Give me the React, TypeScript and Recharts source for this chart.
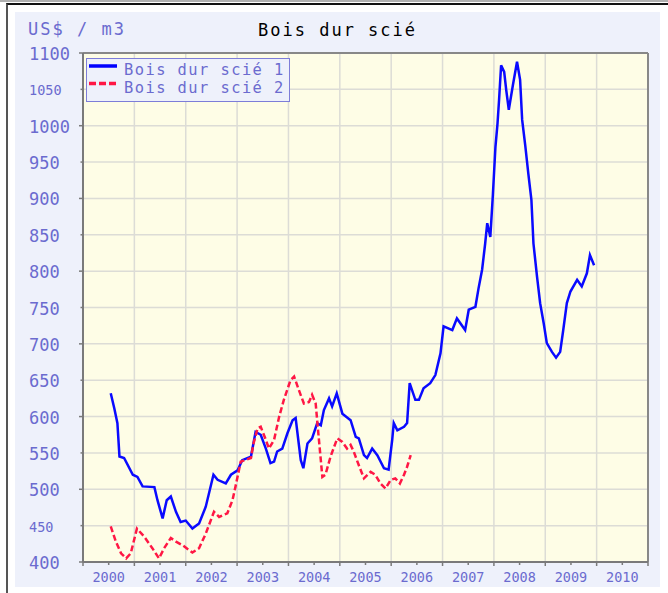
import { LineChart, Line, XAxis, YAxis, CartesianGrid, ReferenceLine, Legend } from 'recharts'

const years1 = [
  2000.54, 2000.61, 2000.67, 2000.71, 2000.8, 2000.97, 2001.06, 2001.16, 2001.39, 2001.45,
  2001.55, 2001.63, 2001.71, 2001.81, 2001.9, 2002.0, 2002.13, 2002.26, 2002.39, 2002.54,
  2002.62, 2002.78, 2002.88, 2003.01, 2003.1, 2003.27, 2003.36, 2003.46, 2003.56, 2003.65,
  2003.72, 2003.78, 2003.88, 2003.98, 2004.08, 2004.14, 2004.2, 2004.24, 2004.29, 2004.37,
  2004.46, 2004.56, 2004.63, 2004.69, 2004.79, 2004.85, 2004.94, 2005.05, 2005.21, 2005.31,
  2005.37, 2005.47, 2005.53, 2005.63, 2005.73, 2005.86, 2005.95, 2006.02, 2006.05, 2006.12,
  2006.25, 2006.31, 2006.36, 2006.47, 2006.54, 2006.63, 2006.76, 2006.86, 2006.96, 2007.02,
  2007.19, 2007.28, 2007.44, 2007.51, 2007.64, 2007.7, 2007.77, 2007.83, 2007.87, 2007.93,
  2007.98, 2008.03, 2008.07, 2008.1, 2008.14, 2008.2, 2008.24, 2008.29, 2008.37, 2008.45,
  2008.51, 2008.55, 2008.61, 2008.67, 2008.73, 2008.77, 2008.84, 2008.9, 2008.97, 2009.03,
  2009.13, 2009.21, 2009.29, 2009.35, 2009.42, 2009.49, 2009.62, 2009.71, 2009.81, 2009.87,
  2009.95,
]
const prices1 = [
  632, 611, 591, 545, 543, 520, 517, 504, 503, 485,
  460, 485, 490, 469, 455, 457, 446, 453, 476, 520,
  513, 508, 520, 526, 540, 545, 579, 575, 556, 536,
  538, 552, 556, 577, 595, 598, 563, 540, 529, 563,
  570, 591, 588, 609, 625, 614, 632, 604, 595, 572,
  570, 547, 543, 556, 547, 529, 527, 568, 591, 581,
  586, 591, 646, 623, 623, 639, 646, 657, 687, 724,
  719, 735, 719, 747, 751, 776, 802, 838, 866, 847,
  905, 971, 1003, 1035, 1083, 1074, 1049, 1022, 1056, 1088,
  1063, 1008, 973, 934, 898, 838, 792, 756, 728, 701,
  689, 681, 689, 719, 756, 772, 788, 779, 797, 822,
  808,
]

const years2 = [
  2000.54, 2000.64, 2000.74, 2000.84, 2000.93, 2001.05, 2001.19, 2001.35, 2001.48, 2001.58,
  2001.71, 2001.81, 2001.94, 2002.13, 2002.26, 2002.39, 2002.55, 2002.65, 2002.81, 2002.91,
  2002.97, 2003.07, 2003.27, 2003.32, 2003.4, 2003.46, 2003.56, 2003.62, 2003.72, 2003.82,
  2003.91, 2004.04, 2004.11, 2004.2, 2004.3, 2004.4, 2004.46, 2004.53, 2004.57, 2004.63,
  2004.66, 2004.72, 2004.82, 2004.95, 2005.05, 2005.14, 2005.21, 2005.27, 2005.37, 2005.47,
  2005.6, 2005.69, 2005.79, 2005.89, 2005.99, 2006.08, 2006.17, 2006.25, 2006.31, 2006.38,
]
const prices2 = [
  449, 428, 412, 405, 412, 446, 435, 419, 405, 419,
  433, 428, 423, 413, 419, 439, 469, 462, 467, 485,
  504, 538, 543, 563, 584, 586, 568, 556, 568, 600,
  623, 650, 655, 637, 618, 620, 630, 618, 586, 540,
  517, 520, 545, 570, 565, 556, 561, 552, 533, 515,
  524, 520, 508, 501, 513, 515, 508, 520, 531, 547,
]

const yearTicks = [2000, 2001, 2002, 2003, 2004, 2005, 2006, 2007, 2008, 2009, 2010, 2011]
const priceTicks = [400, 450, 500, 550, 600, 650, 700, 750, 800, 850, 900, 950, 1000, 1050, 1100]
const smallPriceLabels = [450, 1050]

const series1 = years1.map((t, i) => ({ t, v: prices1[i] }))
const series2 = years2.map((t, i) => ({ t, v: prices2[i] }))

const FONT = '"DejaVu Sans Mono", monospace'
const LABEL = '#6b6bcf'
const AXIS = '#7a7a7a'
const AXIS_X = 68
const YEAR_PX = 565 / 11

function PriceTick({ y, payload }: any) {
  const v = payload.value as number
  const major = v % 100 === 0
  const small = smallPriceLabels.includes(v)
  return (
    <g>
      <line x1={AXIS_X - (major ? 4 : 2.5)} x2={AXIS_X} y1={y} y2={y} stroke={AXIS} strokeWidth={1.5} />
      <text x={14} y={y + 1} fill={LABEL} fontFamily={FONT} fontSize={small ? 13.5 : 17} dominantBaseline="central">
        {v}
      </text>
    </g>
  )
}

function YearTick({ x, y, payload }: any) {
  const v = payload.value as number
  if (v >= 2011) return null
  const mid = x + YEAR_PX / 2
  return (
    <g>
      <line x1={mid} x2={mid} y1={y - 10} y2={y - 7} stroke={AXIS} strokeWidth={1.5} />
      <text x={mid} y={y} fill={LABEL} fontFamily={FONT} fontSize={13.5} textAnchor="middle" dy="0.71em">
        {v}
      </text>
    </g>
  )
}

const rowText = { display: 'inline-block', height: 18, lineHeight: '18px', marginTop: 1 } as const

function LegendBox() {
  return (
    <div
      style={{
        border: '1px solid #7d7dd8',
        background: '#eef1fb',
        padding: '1px 4px 5px 2px',
        fontFamily: FONT,
        fontSize: 15.4,
        letterSpacing: 1.45,
        lineHeight: '18px',
        color: LABEL,
        whiteSpace: 'pre',
      }}
    >
      <div style={{ display: 'flex', height: 18 }}>
        <svg width={35} height={18}>
          <line x1={0} x2={28} y1={6} y2={6} stroke="#0000ff" strokeWidth={3.5} />
        </svg>
        <span style={rowText}>Bois dur scié 1</span>
      </div>
      <div style={{ display: 'flex', height: 18 }}>
        <svg width={35} height={18}>
          <line x1={0} x2={28} y1={5.5} y2={5.5} stroke="#ff1744" strokeWidth={3.5} strokeDasharray="7 3" />
        </svg>
        <span style={rowText}>Bois dur scié 2</span>
      </div>
    </div>
  )
}

export default function App() {
  return (
    <div style={{ position: 'absolute', left: 0, top: 0, width: 668, height: 593, background: '#fff' }}>
      <div style={{ position: 'absolute', left: 0, top: 0, width: 668, height: 2, background: '#b0b0b0' }} />
      <div
        style={{
          position: 'absolute', left: 6, top: 3, width: 662, height: 590,
          borderTop: '2px solid #111', borderLeft: '2px solid #555', boxSizing: 'border-box',
        }}
      />
      <div style={{ position: 'absolute', left: 15, top: 12, width: 645, height: 575, background: '#eef1fb' }}>
        <div style={{ position: 'absolute', left: 13, top: 9, fontFamily: FONT, fontSize: 17, lineHeight: 1, letterSpacing: 2, color: LABEL }}>
          US$ / m3
        </div>
        <div style={{ position: 'absolute', left: 243, top: 10, fontFamily: FONT, fontSize: 17, lineHeight: 1, letterSpacing: 2, color: '#000' }}>
          Bois dur scié
        </div>
        <LineChart width={645} height={575} margin={{ top: 41, right: 12, left: 0, bottom: 0 }}>
          <CartesianGrid fill="#fefde6" stroke="#dcdcd6" strokeWidth={1.5} />
          <XAxis
            type="number"
            dataKey="t"
            domain={[2000, 2011]}
            ticks={yearTicks}
            allowDataOverflow
            height={25}
            tickSize={4}
            tickMargin={6}
            tickLine={{ stroke: AXIS, strokeWidth: 1.5 }}
            axisLine={{ stroke: AXIS, strokeWidth: 2 }}
            tick={<YearTick />}
          />
          <YAxis
            type="number"
            domain={[400, 1100]}
            ticks={priceTicks}
            allowDataOverflow
            width={AXIS_X}
            tickLine={false}
            axisLine={{ stroke: AXIS, strokeWidth: 2 }}
            tick={<PriceTick />}
          />
          <ReferenceLine y={1100} stroke="#888" strokeWidth={2} />
          <ReferenceLine x={2011} stroke="#888" strokeWidth={2} />
          <Legend
            layout="vertical"
            align="center"
            verticalAlign="middle"
            wrapperStyle={{ left: 71, top: 46, width: 'auto' }}
            content={() => <LegendBox />}
          />
          <Line data={series1} dataKey="v" type="linear" stroke="#0a0aff" strokeWidth={2.5} dot={false} isAnimationActive={false} />
          <Line data={series2} dataKey="v" type="linear" stroke="#ff1744" strokeWidth={2.5} strokeDasharray="6 3" dot={false} isAnimationActive={false} />
        </LineChart>
      </div>
    </div>
  )
}
